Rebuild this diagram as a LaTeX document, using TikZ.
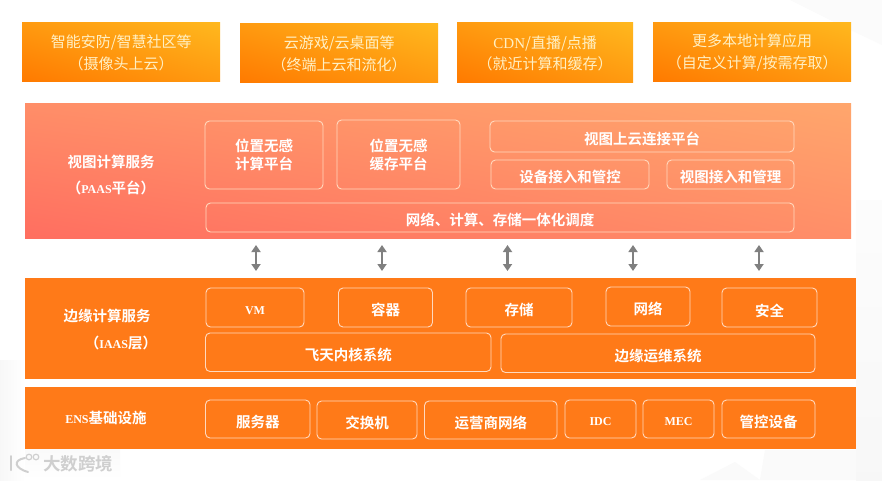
\documentclass[tikz,border=0pt]{standalone}
\usepackage{fontspec}
\usetikzlibrary{shadings,arrows.meta}
\setmainfont{Liberation Serif}
\newfontfamily\cjk{Noto Sans CJK SC}[BoldFont={Noto Sans CJK SC Bold}]
\newfontfamily\lat{Liberation Serif}
\definecolor{panelor}{HTML}{FF7A18}
\definecolor{toplow}{HTML}{FF7A00}
\definecolor{topmid}{HTML}{FF9A10}
\definecolor{tophigh}{HTML}{FFB81E}
\definecolor{pinklow}{HTML}{FF6E60}
\definecolor{pinkmid}{HTML}{FF8E68}
\definecolor{pinkhigh}{HTML}{FFA66C}
\definecolor{toptext}{HTML}{FFF0C4}
\definecolor{edgepale}{HTML}{FFD9BE}
\definecolor{arrowgray}{HTML}{808080}
\definecolor{markgray}{HTML}{CFCFCF}
\newcommand{\smlat}{\lat\fontsize{12}{15}\selectfont}
\tikzset{
  topbox/.style={rectangle,inner sep=0pt,anchor=north west,shading=bilinear interpolation,
    lower left=toplow,lower right=topmid,upper left=topmid,upper right=tophigh},
  toplabel/.style={align=center,text=toptext,font=\fontsize{15}{21.5}\selectfont\cjk,inner sep=0pt,yshift=-1pt},
  pinkpanel/.style={rectangle,inner sep=0pt,anchor=north west,shading=bilinear interpolation,
    lower left=pinklow,lower right=pinkmid,upper left=pinkmid,upper right=pinkhigh},
  flatpanel/.style={rectangle,inner sep=0pt,anchor=north west,fill=panelor},
  innerbox/.style={rectangle,draw=edgepale,line width=0.9pt,rounded corners=4.5pt,inner sep=0pt},
  boxtext/.style={text=white,align=center,inner sep=0pt,font=\fontsize{14.5}{18}\selectfont\cjk\bfseries},
  sidelabel/.style={text=white,align=center,inner sep=0pt,font=\fontsize{14.5}{18}\selectfont\cjk\bfseries},
  linkarrow/.style={{Triangle[length=7pt,width=9pt]}-{Triangle[length=7pt,width=9pt]},draw=arrowgray,line width=2.8pt},
  watermark/.style={text=markgray,inner sep=0pt,font=\fontsize{17.5}{20}\selectfont\cjk\bfseries}
}
% name, x0, y0, x1, y1, text, text shift
\newcommand{\innerb}[7]{\node[innerbox,minimum width=#4pt-#2pt,minimum height=#5pt-#3pt] (#1) at ({(#2+#4)/2},{(#3+#5)/2}) {};
  \node[boxtext,yshift=-#7pt] (#1t) at (#1.center) {#6};}
\begin{document}
\begin{tikzpicture}[x=1pt,y=-1pt]
\useasboundingbox (0,0) rectangle (882,480);
% background
\fill[white] (0,0) rectangle (882,480);
\fill[black!1.5] (790,0) -- (882,0) -- (882,45) -- (840,25) -- cycle;
\shade[top color=black!1,bottom color=black!3] (856,200) rectangle (882,480);
\fill[black!2] (700,480) -- (735,462) -- (760,480) -- cycle;
\fill[black!2] (760,480) -- (765,450) -- (856,450) -- (856,480) -- cycle;
\shade[left color=black!3,right color=white] (0,360) rectangle (25,480);
\shade[top color=black!2,bottom color=white] (25,449) rectangle (120,480);
% top boxes
\node[topbox,minimum width=198pt,minimum height=59pt] (t1) at (22,22) {};
\node[topbox,minimum width=198pt,minimum height=59pt] (t2) at (240,23) {};
\node[topbox,minimum width=176pt,minimum height=60pt] (t3) at (457,22) {};
\node[topbox,minimum width=198pt,minimum height=59pt] (t4) at (653,22) {};
\node[toplabel] (t1l) at (t1.center) {智能安防/智慧社区等\\（摄像头上云）};
\node[toplabel] (t2l) at (t2.center) {云游戏/云桌面等\\（终端上云和流化）};
\node[toplabel] (t3l) at (t3.center) {{\lat CDN}/直播/点播\\（就近计算和缓存）};
\node[toplabel] (t4l) at (t4.center) {更多本地计算应用\\（自定义计算/按需存取）};
% panels
\node[pinkpanel,minimum width=826pt,minimum height=135pt] (p1) at (25,103) {};
\node[flatpanel,minimum width=831pt,minimum height=101pt] (p2) at (25,278) {};
\node[flatpanel,minimum width=831pt,minimum height=62pt] (p3) at (25,387) {};
% side labels
\node[sidelabel] (s1a) at (111,162) {视图计算服务};
\node[sidelabel] (s1b) at (111,188) {（{\smlat PAAS}平台）};
\node[sidelabel] (s2a) at (107,316) {边缘计算服务};
\node[sidelabel] (s2b) at (121,343) {（{\smlat IAAS}层）};
\node[sidelabel] (s3a) at (106,418) {{\smlat ENS}基础设施};
% PAAS boxes
\innerb{a1}{205}{121}{323}{189}{位置无感\\计算平台}{0}
\innerb{a2}{337}{120}{460}{189}{位置无感\\缓存平台}{0}
\innerb{a3}{490}{121}{794}{152}{视图上云连接平台}{2}
\innerb{a4}{491}{160}{649}{189}{设备接入和管控}{2.5}
\innerb{a5}{667}{160}{794}{189}{视图接入和管理}{2.5}
\innerb{a6}{206}{203}{794}{232}{网络、计算、存储一体化调度}{2.5}
% IAAS boxes
\innerb{b1}{206}{288}{304}{327}{\smlat VM}{3}
\innerb{b2}{338.5}{288}{432.5}{327}{容器}{2.5}
\innerb{b3}{466}{288}{572}{327}{存储}{2.5}
\innerb{b4}{606}{287}{690}{326}{网络}{2.5}
\innerb{b5}{722}{288}{817}{327}{安全}{3}
\innerb{b6}{205.5}{333}{491}{371.5}{飞天内核系统}{2.5}
\innerb{b7}{501}{334}{815}{372.5}{边缘运维系统}{2.5}
% ENS boxes
\innerb{c1}{205.5}{400}{310}{438}{服务器}{2.5}
\innerb{c2}{317}{401}{417}{439}{交换机}{2.5}
\innerb{c3}{424.5}{401}{557}{439}{运营商网络}{2.5}
\innerb{c4}{565}{400}{636}{438}{\smlat IDC}{3}
\innerb{c5}{643}{400}{714}{438}{\smlat MEC}{3}
\innerb{c6}{722}{400}{815}{438}{管控设备}{2.5}
% arrows
\foreach \i/\ax in {1/256,2/382,3/507.5,4/633,5/759}{
  \coordinate (up\i) at (\ax,245);
  \coordinate (dn\i) at (\ax,271);
  \draw[linkarrow] (up\i) -- (dn\i);
}
% watermark
\node[watermark,anchor=west] (wm) at (43,464) {大数跨境};
\draw[markgray,line width=2pt,line cap=round] (11,456) -- (11,470);
\draw[markgray,line width=2pt,line cap=round] (25,458) .. controls (13,460) and (14,468) .. (28,472);
\draw[markgray,line width=1.2pt] (29,457) circle (2.8);
\draw[markgray,line width=1.2pt] (36,457) circle (2.8);
\end{tikzpicture}
\end{document}
